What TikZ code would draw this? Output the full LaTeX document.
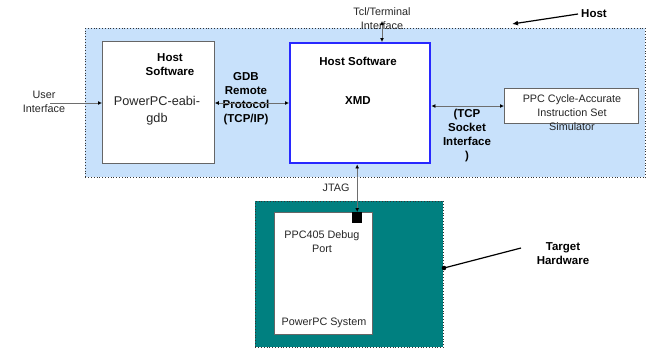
\documentclass[tikz,border=0pt]{standalone}
\usepackage{fontspec}
\setmainfont{Liberation Sans}
\usetikzlibrary{arrows.meta}
\definecolor{hostblue}{RGB}{200,225,251}
\definecolor{teal}{RGB}{0,128,128}
\definecolor{xmdblue}{RGB}{40,40,255}
\definecolor{linegrey}{RGB}{110,110,110}
\begin{document}
\begin{tikzpicture}[x=1pt,y=-1pt,
  lbl/.style={font=\fontsize{10.8}{14}\selectfont, align=center, inner sep=0pt, text=black!85},
  blbl/.style={font=\fontsize{11.5}{14}\selectfont\bfseries, align=center, inner sep=0pt},
  whitebox/.style={draw=black!60, fill=white, line width=0.8pt, anchor=north west, inner sep=0pt},
  conn/.style={draw=linegrey, line width=0.8pt},
  tip/.style={-{Latex[length=4pt,width=4pt,black]}},
  tips/.style={{Latex[length=4pt,width=4pt,black]}-{Latex[length=4pt,width=4pt,black]}}]
\useasboundingbox (0,0) rectangle (646,349);
% host area
\node[draw=black!80, dotted, line width=0.8pt, fill=hostblue, anchor=north west, minimum width=560pt, minimum height=149pt, inner sep=0pt] (host) at (85,28) {};
% target hardware
\node[draw=black!80, dotted, line width=0.8pt, fill=teal, anchor=north west, minimum width=188pt, minimum height=146pt, inner sep=0pt] (th) at (255,201) {};
% gdb box
\node[whitebox, minimum width=112pt, minimum height=122pt] (gdb) at (102,41) {};
\node[blbl] (gdbhs) at (170,65) {Host\\Software};
\node[lbl, font=\fontsize{12.7}{17}\selectfont] (gdbt) at (157,111) {PowerPC-eabi-\\gdb};
% xmd box
\node[draw=xmdblue, line width=2.4pt, fill=white, anchor=north west, minimum width=140pt, minimum height=120pt, inner sep=0pt] (xmd) at (289,42) {};
\node[blbl] (xmdhs) at (358,61) {Host Software};
\node[blbl] (xmdt) at (358,101) {XMD};
% simulator
\node[whitebox, minimum width=134pt, minimum height=35pt] (sim) at (504,88) {};
\node[lbl] (simt) at (572,113) {PPC Cycle-Accurate\\Instruction Set\\Simulator};
% target white box
\node[whitebox, minimum width=98pt, minimum height=122pt] (ppc) at (274,212) {};
\node[fill=black, anchor=north west, minimum width=10pt, minimum height=11pt, inner sep=0pt] (port) at (352,212) {};
\node[lbl] (portt) at (322,242) {PPC405 Debug\\Port};
\node[lbl] (syst) at (324,323) {PowerPC System};
% labels
\node[lbl] (uit) at (44,102) {User\\Interface};
\node[blbl] (gdbp) at (246,99) {GDB\\Remote\\Protocol\\(TCP/IP)};
\node[blbl] (tcpt) at (467,136) {(TCP\\Socket\\Interface\\)};
\node[lbl] (tclt) at (382,18.5) {Tcl/Terminal\\Interface};
\node[lbl] (jtag) at (336,188) {JTAG};
\node[blbl] (hostl) at (594,14) {Host};
\node[blbl] (thl) at (563,254) {Target\\Hardware};
% connectors
\coordinate (ui) at (50,103);
\coordinate (tcl) at (382,21);
\coordinate (hostpt) at (512,24);
\draw[conn, tip] (ui) -- (ui -| gdb.west);
\draw[conn, tips] (gdb.east |- 0,103) -- (xmd.west |- 0,103);
\draw[conn, tips] (xmd.east |- 0,106) -- (sim.west |- 0,106);
\draw[conn, tips] (tcl) -- (tcl |- xmd.north);
\draw[conn, tips] (xmd.south -| port.north) -- (port.north);
\draw[black, line width=1.2pt, -{Latex[length=6pt,width=5pt]}] (hostl.west) ++(-3,0) -- (hostpt);
\coordinate (thdot) at (444,268);
\fill (thdot) circle (2.3pt);
\draw[black, line width=1.2pt] (thdot) -- (521,248);
\end{tikzpicture}
\end{document}
